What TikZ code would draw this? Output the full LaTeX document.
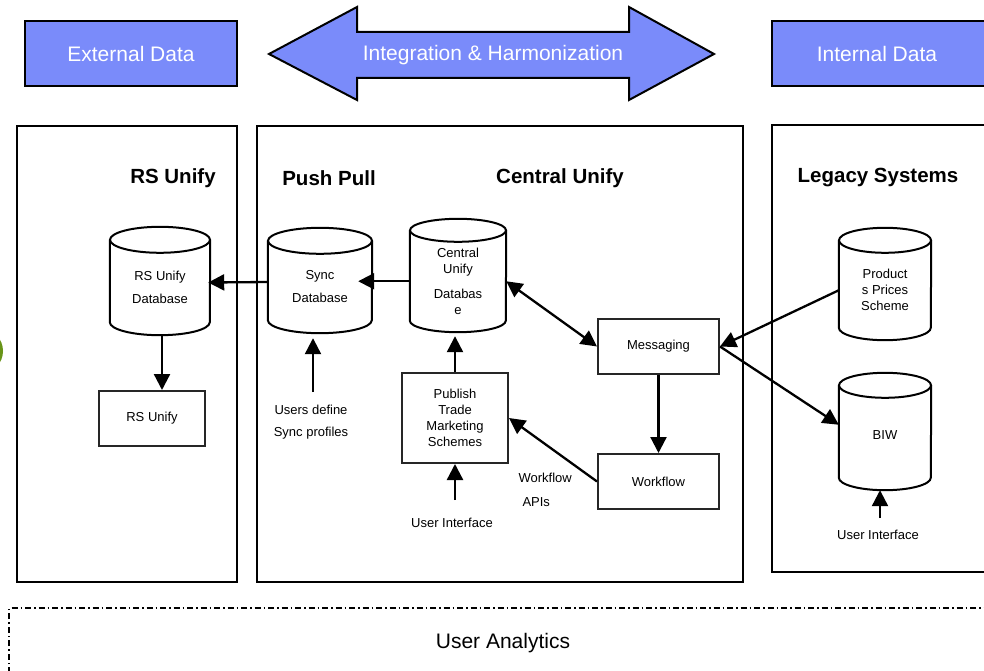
\documentclass[tikz,border=0pt]{standalone}
\usepackage{fontspec}
\setmainfont{Liberation Sans}
\usetikzlibrary{arrows.meta,calc}
\definecolor{bannerblue}{RGB}{122,139,250}
\definecolor{leafgreen}{RGB}{104,148,24}

% cylinder outline around a body node: cap centred on the node's north,
% rounded bottom through the node's south
\newcommand{\dbshape}[3]{%
  \draw[cyloutline] (#1.north west) -- ([yshift=#3]#1.south west)
    arc[start angle=180,end angle=360,x radius=#2,y radius=#3] -- (#1.north east);
  \draw[cyloutline,fill=white] (#1.north) ellipse[x radius=#2,y radius=#3];
}

\begin{document}
\begin{tikzpicture}[x=1pt,y=1pt,
  sysframe/.style={draw=black, line width=2pt, inner sep=0pt},
  bannerbox/.style={draw=black, line width=2pt, fill=bannerblue, inner sep=0pt},
  bannertext/.style={text=white, font=\fontsize{21}{25}\selectfont},
  heading/.style={font=\bfseries\fontsize{20.5}{24}\selectfont},
  smalltext/.style={font=\fontsize{13}{16}\selectfont, align=center},
  procbox/.style={draw=black!85, line width=2pt, inner sep=0pt, smalltext},
  dbbody/.style={inner sep=0pt, smalltext},
  cyloutline/.style={draw=black, line width=2pt},
  tipshape/.style={},
  arr/.style={line width=2.3pt, -{Triangle[length=16pt,width=16pt]}},
  biarr/.style={line width=2.3pt, {Triangle[length=16pt,width=16pt]}-{Triangle[length=16pt,width=16pt]}},
  analytics/.style={draw=black, line width=1.4pt, dash pattern=on 6pt off 3pt on 1.5pt off 3pt},
]
\useasboundingbox (0,0) rectangle (984,670);

% leaf-shaped accent at the left edge
\fill[leafgreen] (-18,319) ellipse[x radius=21,y radius=22];

% ---------- banner ----------
\node[bannerbox, minimum width=212pt, minimum height=65pt] (ext) at (131,616) {};
\node[bannertext] (extlbl) at (ext.center) {External Data};
\draw[bannerbox, line join=miter] (269,616) -- (357,663) -- (357,638) -- (629,638) -- (629,663)
  -- (714,616) -- (629,570) -- (629,592) -- (357,592) -- (357,570) -- cycle;
\node[bannertext] (integ) at (493,615) {Integration \& Harmonization};
\node[bannerbox, minimum width=228pt, minimum height=65pt] (int) at (886,616) {};
\node[bannertext] (intlbl) at (877,616) {Internal Data};

% ---------- system frames ----------
\node[sysframe, minimum width=220pt, minimum height=456pt] (rsframe) at (127,316) {};
\node[sysframe, minimum width=486pt, minimum height=456pt] (cframe) at (500,316) {};
\node[sysframe, minimum width=228pt, minimum height=447pt] (lframe) at (886,321.5) {};

\node[heading] (hrs) at (173,492) {RS Unify};
\node[heading] (hpp) at (329,492) {Push Pull};
\node[heading] (hcu) at (560,492) {Central Unify};
\node[heading] (hls) at (878,492) {Legacy Systems};

% ---------- databases ----------
\node[dbbody, font=\fontsize{13}{23}\selectfont, minimum width=100pt, minimum height=95pt]
  (rsdb) at (160,382.5) {RS Unify\\Database};
\dbshape{rsdb}{50}{13}
\node[dbbody, font=\fontsize{13}{23}\selectfont, minimum width=104pt, minimum height=92pt]
  (sync) at (320,383) {Sync\\Database};
\dbshape{sync}{52}{13}
\node[dbbody, minimum width=96pt, minimum height=101.5pt]
  (cdb) at (458,388.75) {Central\\Unify\\[9pt]Databas\\e};
\dbshape{cdb}{48}{11.5}
\node[dbbody, minimum width=92pt, minimum height=99.5pt]
  (prod) at (885,379.75) {Product\\s Prices\\Scheme};
\dbshape{prod}{46}{12.5}
\node[dbbody, minimum width=92pt, minimum height=104.5pt]
  (biw) at (885,232.25) {\raisebox{5pt}{BIW}};
\dbshape{biw}{46}{12.5}

% ---------- process boxes ----------
\node[procbox, minimum width=106pt, minimum height=55pt] (rsu) at (152,251.5) {RS Unify};
\node[procbox, minimum width=106pt, minimum height=90pt] (pub) at (455,252) {Publish\\Trade\\Marketing\\Schemes};
\node[procbox, minimum width=121pt, minimum height=55pt] (msg) at (658.5,323.5) {Messaging};
\node[procbox, minimum width=121pt, minimum height=55pt] (wf) at (658.5,188.5) {Workflow};

% ---------- free labels ----------
\node[smalltext, font=\fontsize{13}{22}\selectfont] (usersdef) at (311,248) {Users define\\Sync profiles};
\node[smalltext] (ui1) at (452,147) {User Interface};
\node[smalltext] (ui2) at (878,135) {User Interface};
\node[smalltext, anchor=west] (wfapi1) at (515,192) {Workflow};
\node[smalltext, anchor=west] (wfapi2) at (519,168) {APIs};

\coordinate (udtop) at (313,278);
\coordinate (uitop) at (455,170);
\coordinate (ui2top) at (880,152);
\coordinate (rsdrop) at (162,335);

% ---------- connectors ----------
\draw[arr, shorten >=-2pt] ([yshift=5pt]sync.west) -- ([yshift=5pt]rsdb.east);
\draw[arr] (rsdrop) -- (rsdrop |- rsu.north);
\draw[arr, shorten >=-14pt] (cdb.west) -- (cdb.west -| sync.east);
\draw[arr, shorten >=5pt] (udtop) -- (udtop |- sync.south);
\draw[arr, shorten >=4pt] (pub.north) -- (pub.north |- cdb.south);
\draw[arr] (uitop) -- (pub.south);
\draw[biarr] (cdb.east) -- (msg.west);
\draw[arr] (msg.south) -- (wf.north);
\draw[arr] (wf.west) -- (pub.east);
\draw[arr] (prod.west) -- (msg.east);
\draw[arr] (msg.east) -- ([yshift=13pt]biw.west);
\draw[arr] (ui2top) -- (ui2top |- biw.south);

% ---------- analytics area ----------
\draw[analytics] (9,-30) -- (9,62) -- (1000,62);
\node[font=\fontsize{21}{25}\selectfont] (ua) at (503,27) {User Analytics};
\end{tikzpicture}
\end{document}
